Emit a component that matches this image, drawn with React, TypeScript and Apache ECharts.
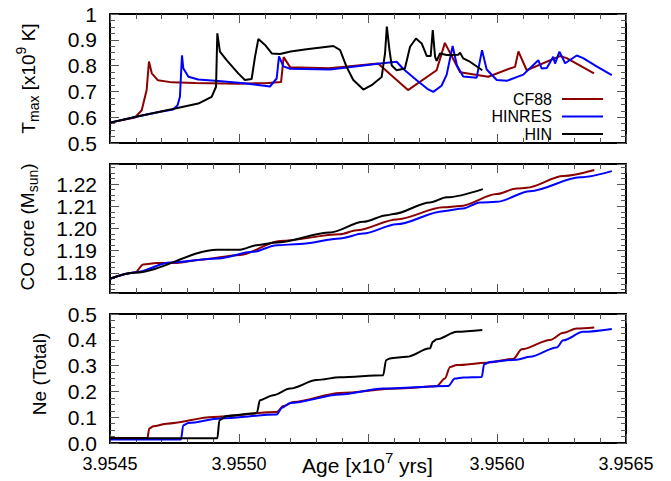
import React, { useEffect, useRef } from 'react';
import * as echarts from 'echarts';

const FONT = '"Liberation Sans", Arial, Helvetica, sans-serif';
const NAMES = ['CF88', 'HINRES', 'HIN'];
const COLORS = ['#8b0000', '#0000ff', '#000000'];

const AGE_MIN = 3.9545;
const AGE_MAX = 3.9565;
const AGE_STEP = 0.0005;
const HIDDEN_AGE_LABEL = 3.9555;

const TMAX_MIN = 0.5, TMAX_MAX = 1.0, TMAX_STEP = 0.1;
const CO_MIN = 1.171, CO_MAX = 1.229;
const NE_MIN = 0, NE_MAX = 0.5, NE_STEP = 0.1;

// ---- T_max [x10^9 K] ----
const CF88_TMAX: [number, number][] = [
  [3.9545, 0.579], [3.954597, 0.599], [3.954623, 0.627], [3.954642, 0.705], [3.954651, 0.816],
  [3.954662, 0.770], [3.954686, 0.743], [3.95474, 0.735], [3.95483, 0.733], [3.955, 0.730],
  [3.9551, 0.732], [3.955163, 0.736], [3.955173, 0.833], [3.955198, 0.794], [3.95535, 0.790],
  [3.955539, 0.808], [3.955655, 0.705], [3.955766, 0.782], [3.955798, 0.888], [3.955857, 0.774],
  [3.955966, 0.757], [3.95605, 0.789], [3.95607, 0.795], [3.956083, 0.855], [3.956115, 0.782],
  [3.956244, 0.837], [3.95627, 0.829], [3.956376, 0.770],
];
const HINRES_TMAX: [number, number][] = [
  [3.9545, 0.579], [3.95461, 0.604], [3.9547, 0.622], [3.954745, 0.630], [3.954762, 0.646],
  [3.954771, 0.679], [3.954779, 0.840], [3.954784, 0.790], [3.954804, 0.757], [3.954842, 0.746],
  [3.95492, 0.740], [3.95502, 0.732], [3.95512, 0.719], [3.955146, 0.750], [3.955155, 0.836],
  [3.955172, 0.797], [3.955198, 0.788], [3.955353, 0.785], [3.955547, 0.808], [3.955611, 0.815],
  [3.955637, 0.787], [3.95569, 0.742], [3.95573, 0.710], [3.955753, 0.698], [3.955785, 0.722],
  [3.955805, 0.765], [3.955828, 0.876], [3.955845, 0.800], [3.955869, 0.758], [3.955921, 0.753],
  [3.955942, 0.860], [3.95596, 0.785], [3.955999, 0.744], [3.956038, 0.741], [3.956102, 0.765],
  [3.95616, 0.821], [3.956173, 0.789], [3.956193, 0.791], [3.956218, 0.834], [3.956225, 0.808],
  [3.956242, 0.854], [3.956264, 0.809], [3.956309, 0.839], [3.956334, 0.829], [3.956386, 0.797],
  [3.956445, 0.763],
];
const HIN_TMAX: [number, number][] = [
  [3.9545, 0.579], [3.95461, 0.604], [3.954739, 0.631], [3.954842, 0.653], [3.954894, 0.679],
  [3.954911, 0.718], [3.954916, 0.925], [3.954926, 0.854], [3.954952, 0.821], [3.954997, 0.770],
  [3.955023, 0.744], [3.955049, 0.748], [3.955062, 0.834], [3.955075, 0.903], [3.955101, 0.880],
  [3.955127, 0.847], [3.955159, 0.845], [3.9552, 0.855], [3.955262, 0.863], [3.955366, 0.876],
  [3.955392, 0.860], [3.955417, 0.795], [3.955443, 0.744], [3.955482, 0.707], [3.955514, 0.724],
  [3.955553, 0.756], [3.955566, 0.847], [3.955573, 0.951], [3.955583, 0.862], [3.955592, 0.800],
  [3.955611, 0.782], [3.955643, 0.789], [3.955663, 0.873], [3.955686, 0.905], [3.955708, 0.886],
  [3.955728, 0.837], [3.955743, 0.837], [3.955751, 0.938], [3.95576, 0.834], [3.955766, 0.818],
  [3.955779, 0.847], [3.955805, 0.841], [3.95585, 0.842], [3.955857, 0.850], [3.955869, 0.828],
  [3.955895, 0.815], [3.955943, 0.782],
];

// ---- CO core (M_sun) ----
const CF88_CO: [number, number][] = [
  [3.9545, 1.1774], [3.954597, 1.1802], [3.954629, 1.1838], [3.954681, 1.1845], [3.954759, 1.1845],
  [3.954849, 1.1860], [3.955004, 1.1881], [3.955159, 1.1944], [3.955392, 1.1974], [3.955456, 1.1992],
  [3.955611, 1.2041], [3.955792, 1.2095], [3.955857, 1.2101], [3.955999, 1.2155], [3.956076, 1.2180],
  [3.956115, 1.2183], [3.956257, 1.2236], [3.956377, 1.2263],
];
const HINRES_CO: [number, number][] = [
  [3.9545, 1.1774], [3.954597, 1.1802], [3.954733, 1.1847], [3.954914, 1.1865], [3.955055, 1.1895],
  [3.955146, 1.1925], [3.955236, 1.1930], [3.955392, 1.1955], [3.955482, 1.1977], [3.955611, 1.2019],
  [3.955792, 1.2078], [3.955869, 1.2090], [3.955934, 1.2117], [3.955999, 1.2120], [3.956128, 1.2168],
  [3.956322, 1.2230], [3.956445, 1.2258],
];
const HIN_CO: [number, number][] = [
  [3.9545, 1.1774], [3.954597, 1.1802], [3.954914, 1.1905], [3.955004, 1.1905], [3.955069, 1.1925],
  [3.955146, 1.1937], [3.955353, 1.1982], [3.955482, 1.2030], [3.955573, 1.2060], [3.955598, 1.2065],
  [3.95574, 1.2117], [3.955805, 1.2140], [3.955945, 1.2177],
];

// ---- Ne (Total) ----
const CF88_NE: [number, number][] = [
  [3.9545, 0.019], [3.954645, 0.019], [3.954652, 0.056], [3.954668, 0.065], [3.95472, 0.075],
  [3.9549, 0.101], [3.955146, 0.120], [3.955172, 0.143], [3.955211, 0.159], [3.955392, 0.194],
  [3.955611, 0.211], [3.955766, 0.220], [3.955798, 0.250], [3.955818, 0.295], [3.955844, 0.302],
  [3.95596, 0.311], [3.956063, 0.326], [3.956096, 0.363], [3.956205, 0.399], [3.956257, 0.427],
  [3.956309, 0.444], [3.956377, 0.448],
];
const HINRES_NE: [number, number][] = [
  [3.9545, 0.014], [3.954775, 0.014], [3.954784, 0.069], [3.954804, 0.078], [3.954926, 0.095],
  [3.955146, 0.110], [3.955167, 0.137], [3.955198, 0.155], [3.955392, 0.188], [3.955559, 0.211],
  [3.955811, 0.221], [3.955837, 0.250], [3.955869, 0.254], [3.955941, 0.256], [3.95595, 0.305],
  [3.955973, 0.314], [3.956076, 0.323], [3.956128, 0.334], [3.956231, 0.370], [3.956257, 0.398],
  [3.956334, 0.431], [3.956445, 0.442],
];
const HIN_NE: [number, number][] = [
  [3.9545, 0.018], [3.954916, 0.018], [3.954924, 0.088], [3.954952, 0.105], [3.955055, 0.114],
  [3.955069, 0.116], [3.955081, 0.166], [3.955133, 0.185], [3.955198, 0.211], [3.955301, 0.244],
  [3.955392, 0.255], [3.955559, 0.263], [3.95557, 0.321], [3.955585, 0.328], [3.95565, 0.334],
  [3.95574, 0.367], [3.955751, 0.392], [3.955766, 0.402], [3.955844, 0.431], [3.955943, 0.438],
];

const PANELS = [
  [CF88_TMAX, HINRES_TMAX, HIN_TMAX],
  [CF88_CO, HINRES_CO, HIN_CO],
  [CF88_NE, HINRES_NE, HIN_NE],
];

const GRID_LEFT = 110;
const GRID_RIGHT = 45;
const GRID_TOPS = [14, 164, 314];
const GRID_H = 129;

type Part = { t: string; k: 'n' | 'sub' | 'sup' };

function buildTitle(parts: Part[], fs: number, cx: number, cy: number, rotate: boolean) {
  const canvas = document.createElement('canvas');
  const ctx = canvas.getContext('2d')!;
  const small = Math.round(fs * 0.72);
  const widths = parts.map((p) => {
    const size = p.k === 'n' ? fs : small;
    ctx.font = `${size}px ${FONT}`;
    return ctx.measureText(p.t).width;
  });
  const total = widths.reduce((a, b) => a + b, 0);
  let pos = -total / 2;
  const children = parts.map((p, i) => {
    const size = p.k === 'n' ? fs : small;
    const y = p.k === 'sub' ? fs * 0.3 : p.k === 'sup' ? -fs * 0.36 : 0;
    const el = {
      type: 'text',
      x: pos,
      y,
      style: {
        text: p.t,
        fontSize: size,
        fontFamily: FONT,
        fill: '#000',
        textAlign: 'left',
        align: 'left',
        textVerticalAlign: 'middle',
        verticalAlign: 'middle',
      },
    };
    pos += widths[i];
    return el;
  });
  return { type: 'group', x: cx, y: cy, rotation: rotate ? Math.PI / 2 : 0, children };
}

const TICK_COLOR = '#555';

function xAxisPair(gi: number, labels: boolean) {
  const common = {
    type: 'value',
    gridIndex: gi,
    min: AGE_MIN,
    max: AGE_MAX,
    interval: AGE_STEP,
    splitLine: { show: false },
    axisLine: { show: true, onZero: false, lineStyle: { color: '#000', width: 2 } },
    axisTick: { show: true, inside: true, length: 9, lineStyle: { color: TICK_COLOR, width: 1 } },
    minorTick: { show: true, splitNumber: 5, length: 5, lineStyle: { color: TICK_COLOR, width: 1 } },
  };
  return [
    {
      ...common,
      position: 'bottom',
      axisLabel: {
        show: labels,
        fontSize: 18,
        fontFamily: FONT,
        color: '#000',
        margin: 12,
        formatter: (v: number) => (Math.abs(v - HIDDEN_AGE_LABEL) < 1e-7 ? '' : v.toFixed(4)),
      },
    },
    { ...common, position: 'top', axisLabel: { show: false } },
  ];
}

function yAxisPair(gi: number, range: any, showEnds: boolean, fmt: (v: number) => string) {
  const common = {
    type: 'value',
    gridIndex: gi,
    ...range,
    splitLine: { show: false },
    axisLine: { show: true, onZero: false, lineStyle: { color: '#000', width: 2 } },
    axisTick: { show: true, inside: true, length: 9, lineStyle: { color: TICK_COLOR, width: 1 } },
    minorTick: { show: true, splitNumber: 4, length: 5, lineStyle: { color: TICK_COLOR, width: 1 } },
  };
  return [
    {
      ...common,
      position: 'left',
      axisLabel: {
        show: true,
        fontSize: 21,
        fontFamily: FONT,
        color: '#000',
        margin: 13,
        showMinLabel: showEnds,
        showMaxLabel: showEnds,
        formatter: fmt,
      },
    },
    { ...common, position: 'right', axisLabel: { show: false } },
  ];
}

export default function App() {
  const ref = useRef<HTMLDivElement>(null);
  useEffect(() => {
    if (!ref.current) return;
    const chart = echarts.init(ref.current, undefined, { renderer: 'svg' });

    const grids = GRID_TOPS.map((top) => ({ left: GRID_LEFT, right: GRID_RIGHT, top, height: GRID_H, show: false }));
    const xAxes = [...xAxisPair(0, false), ...xAxisPair(1, false), ...xAxisPair(2, true)];
    const yAxes = [
      ...yAxisPair(0, { min: TMAX_MIN, max: TMAX_MAX, interval: TMAX_STEP }, true, (v) =>
        Math.abs(v - 1) < 1e-9 ? '1' : v.toFixed(1)
      ),
      ...yAxisPair(1, { min: CO_MIN, max: CO_MAX, splitNumber: 6 }, false, (v) => v.toFixed(2)),
      ...yAxisPair(2, { min: NE_MIN, max: NE_MAX, interval: NE_STEP }, true, (v) => v.toFixed(1)),
    ];

    const series: any[] = [];
    PANELS.forEach((panel, gi) => {
      panel.forEach((data, si) => {
        series.push({
          type: 'line',
          name: NAMES[si],
          xAxisIndex: gi * 2,
          yAxisIndex: gi * 2,
          data,
          symbol: 'none',
          showSymbol: false,
          smooth: gi === 0 ? false : 0.3,
          smoothMonotone: 'x',
          lineStyle: { color: COLORS[si], width: 2 },
          itemStyle: { color: COLORS[si] },
          z: 2 + si,
        });
      });
    });

    const graphic = [
      buildTitle(
        [
          { t: 'T', k: 'n' },
          { t: 'max', k: 'sub' },
          { t: ' [x10', k: 'n' },
          { t: '9', k: 'sup' },
          { t: ' K]', k: 'n' },
        ],
        19, 28, 78.5, true
      ),
      buildTitle(
        [
          { t: 'CO core (M', k: 'n' },
          { t: 'sun', k: 'sub' },
          { t: ')', k: 'n' },
        ],
        19, 27, 227, true
      ),
      buildTitle([{ t: 'Ne (Total)', k: 'n' }], 19, 39, 374, true),
      buildTitle(
        [
          { t: 'Age [x10', k: 'n' },
          { t: '7', k: 'sup' },
          { t: ' yrs]', k: 'n' },
        ],
        21, 367.5, 465, false
      ),
    ];

    chart.setOption({
      animation: false,
      backgroundColor: '#fff',
      textStyle: { fontFamily: FONT },
      grid: grids,
      xAxis: xAxes,
      yAxis: yAxes,
      legend: {
        data: NAMES,
        orient: 'vertical',
        right: 68,
        top: 91,
        padding: 0,
        align: 'right',
        icon: 'rect',
        itemWidth: 41,
        itemHeight: 2,
        itemGap: 1.5,
        selectedMode: false,
        textStyle: { fontSize: 16, fontFamily: FONT, color: '#000', padding: [0, 5, 0, 0] },
      },
      series,
      graphic,
    });
    return () => chart.dispose();
  }, []);
  return <div ref={ref} style={{ position: 'fixed', left: 0, top: 0, width: 671, height: 481 }} />;
}
